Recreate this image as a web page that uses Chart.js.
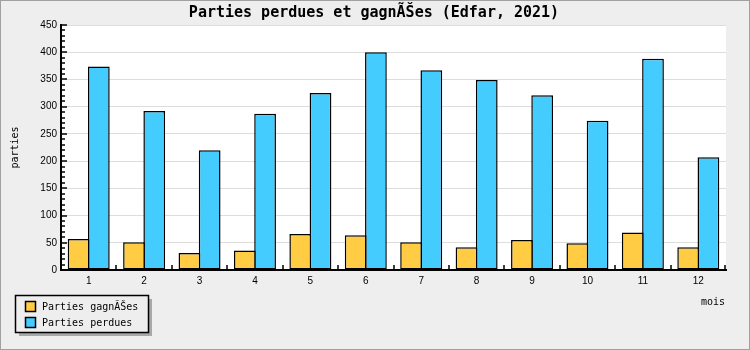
<!DOCTYPE html>
<html>
<head>
<meta charset="utf-8">
<script src="https://cdn.jsdelivr.net/npm/chart.js@4"></script>
<style>
  html, body { margin: 0; padding: 0; background: #eeeeee; }
  #graficoParties { display: block; }
</style>
</head>
<body>
<canvas id="graficoParties" width="750" height="350"></canvas>
<script>
// Donnees
const mois = ['1', '2', '3', '4', '5', '6', '7', '8', '9', '10', '11', '12']
const partiesGagnees = [57, 51, 31, 36, 66, 64, 51, 42, 55, 49, 69, 42]
const partiesPerdues = [374, 292, 220, 287, 325, 400, 367, 349, 321, 274, 388, 207]
const titreGraphique = 'Parties perdues et gagnÃŠes (Edfar, 2021)'
const titreAxeX = 'mois'
const titreAxeY = 'parties'

const police = 'Liberation Sans'
const policeMono = 'DejaVu Sans Mono'

//Fond gris, cadre et zone de trace blanche
const fondPlugin = {
    id: 'fond',
    beforeDraw: (chart) => {
        const { ctx, chartArea } = chart
        ctx.save()
        ctx.fillStyle = '#eeeeee'
        ctx.fillRect(0, 0, chart.width, chart.height)
        ctx.strokeStyle = '#a0a0a0'
        ctx.lineWidth = 1
        ctx.strokeRect(0.5, 0.5, chart.width - 1, chart.height - 1)
        ctx.fillStyle = '#ffffff'
        ctx.fillRect(chartArea.left, chartArea.top, chartArea.right - chartArea.left, chartArea.bottom - chartArea.top)

        // titre (centre sur toute la largeur)
        ctx.fillStyle = '#000'
        ctx.font = 'bold 15px "' + policeMono + '"'
        ctx.textAlign = 'center'
        ctx.textBaseline = 'middle'
        ctx.fillText(titreGraphique, 374, 13)
        ctx.restore()
    }
}

//Graduations vers l'interieur + legende encadree
const decorPlugin = {
    id: 'decor',
    afterDraw: (chart) => {
        const { ctx, chartArea, scales } = chart
        ctx.save()
        ctx.strokeStyle = '#000'
        ctx.lineWidth = 1.5
        ctx.beginPath()
        scales.y.ticks.forEach(t => {
            const y = Math.round(scales.y.getPixelForValue(t.value))
            const len = t.value % 50 === 0 ? 6 : 4
            ctx.moveTo(chartArea.left, y)
            ctx.lineTo(chartArea.left + len, y)
        })
        for (let i = 1; i <= mois.length; i++) {
            let x
            if (i < mois.length) {
                x = (scales.x.getPixelForValue(i - 1) + scales.x.getPixelForValue(i)) / 2
            } else {
                x = chartArea.right - 1
            }
            x = Math.round(x)
            ctx.moveTo(x, chartArea.bottom)
            ctx.lineTo(x, chartArea.bottom - 5)
        }
        ctx.stroke()

        // titre axe x
        ctx.fillStyle = '#000'
        ctx.font = '10px "' + policeMono + '"'
        ctx.textAlign = 'right'
        ctx.textBaseline = 'middle'
        ctx.fillText(titreAxeX, 725, 302)

        // legende
        ctx.lineWidth = 1.5
        ctx.fillStyle = '#a8a8a8'
        ctx.fillRect(19, 299, 133, 37)
        ctx.fillStyle = '#eeeeee'
        ctx.fillRect(15.5, 295.5, 133, 37)
        ctx.strokeStyle = '#000'
        ctx.strokeRect(15.5, 295.5, 133, 37)
        chart.data.datasets.forEach((ds, i) => {
            const y = 300.5 + i * 16.5
            ctx.fillStyle = ds.backgroundColor
            ctx.fillRect(25.5, Math.round(y) + 0.5, 10, 10)
            ctx.strokeRect(25.5, Math.round(y) + 0.5, 10, 10)
            ctx.fillStyle = '#000'
            ctx.textAlign = 'left'
            ctx.fillText(ds.label, 42, Math.round(y) + 6)
        })
        ctx.restore()
    }
}

const generarGrafico = () => {
    let lienzo = document.getElementById('graficoParties')

    let barChart = new Chart(lienzo, {
        type: 'bar',
        data: {
            labels: mois,
            datasets: [{
                label: 'Parties gagnÃŠes',
                data: partiesGagnees,
                backgroundColor: '#ffcc44',
                borderColor: '#000',
                borderWidth: 1.5,
                borderSkipped: false
            }, {
                label: 'Parties perdues',
                data: partiesPerdues,
                backgroundColor: '#44ccff',
                borderColor: '#000',
                borderWidth: 1.5,
                borderSkipped: false
            }]
        },
        options: {
            responsive: false,
            animation: false,
            layout: { padding: { left: 0, right: 24, top: 25, bottom: 0 } },
            datasets: {
                // barres qui se chevauchent un peu pour partager le trait
                bar: { categoryPercentage: 0.7308, barPercentage: 1.074 }
            },
            plugins: {
                legend: { display: false },
                tooltip: { enabled: false },
                title: { display: false }
            },
            scales: {
                x: {
                    grid: { display: false, drawTicks: false },
                    border: { display: true, color: '#000', width: 2 },
                    ticks: { color: '#000', font: { family: police, size: 10 }, padding: 5, maxRotation: 0 },
                    afterFit: (scale) => { scale.height = 80 }
                },
                y: {
                    min: 0,
                    max: 450,
                    grid: {
                        drawTicks: false,
                        color: (c) => (c.tick && c.tick.value % 50 === 0 && c.tick.value > 0) ? '#dddddd' : 'rgba(0,0,0,0)'
                    },
                    border: { display: true, color: '#000', width: 2 },
                    ticks: {
                        stepSize: 10,
                        autoSkip: false,
                        color: '#000',
                        padding: 4,
                        font: { family: police, size: 10 },
                        callback: (v) => v % 50 === 0 ? v : ''
                    },
                    title: {
                        display: true,
                        text: titreAxeY,
                        color: '#000',
                        font: { family: policeMono, size: 10 },
                        padding: { top: 9, bottom: 0 }
                    },
                    afterFit: (scale) => { scale.width = 61 }
                }
            }
        },
        plugins: [fondPlugin, decorPlugin]
    })
}

generarGrafico()
</script>
</body>
</html>
